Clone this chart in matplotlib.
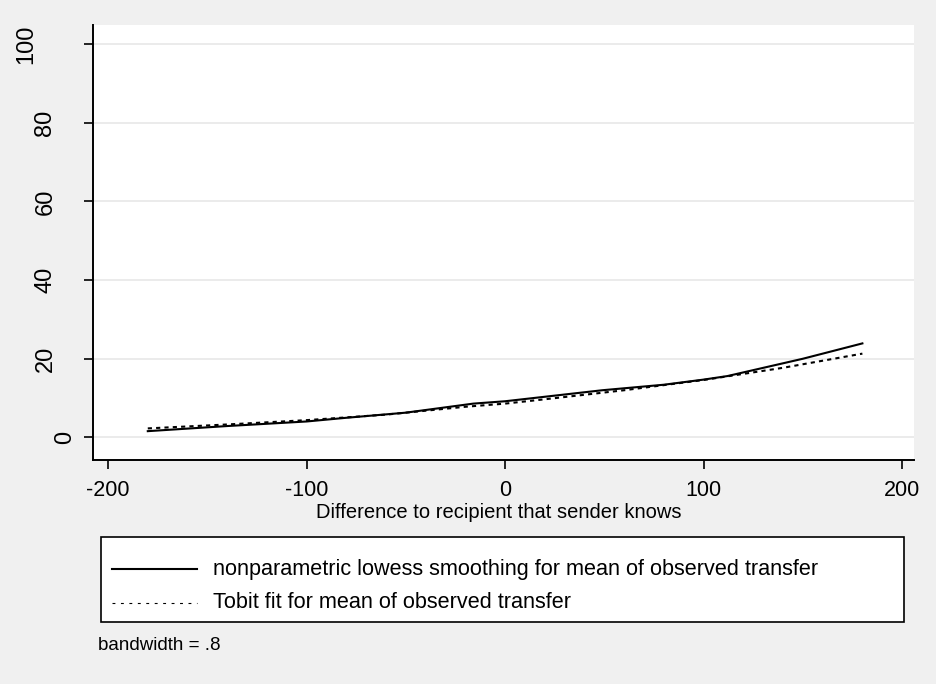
import matplotlib
matplotlib.use("Agg")
import matplotlib.pyplot as plt
from matplotlib.patches import Rectangle
from matplotlib.lines import Line2D

# lowess smoothing of observed transfer
lowess_x = [-180, -140, -100, -80, -50, -16, 0, 49, 80, 100, 112, 150, 180]
lowess_y = [1.6, 2.9, 4.06, 5.0, 6.3, 8.6, 9.2, 12.0, 13.4, 14.7, 15.6, 20.0, 23.9]

# tobit fitted mean
tobit_x = [-180, -140, -100, -60, -20, 0, 20, 60, 100, 140, 180]
tobit_y = [2.3, 3.3, 4.4, 5.8, 7.8, 8.6, 9.7, 12.0, 14.6, 17.7, 21.3]

xticks = [-200, -100, 0, 100, 200]
yticks = [0, 20, 40, 60, 80, 100]
labels = ['nonparametric lowess smoothing for mean of observed transfer',
          'Tobit fit for mean of observed transfer']

plt.rcParams['font.family'] = ['Liberation Sans', 'DejaVu Sans']

W, H = 936, 684
fig = plt.figure(figsize=(W / 100, H / 100), dpi=100, facecolor='#f0f0f0')
ax = fig.add_axes([93 / W, 1 - 459.5 / H, (914 - 93) / W, (459.5 - 25) / H])
ax.set_facecolor('white')

ax.plot(lowess_x, lowess_y, color='black', lw=1.5)
ax.plot(tobit_x, tobit_y, color='black', lw=1.5, linestyle=(0, (2, 2)))

ax.set_xlim(-207.6, 206.0)
ax.set_ylim(-5.6, 104.8)
ax.set_xticks(xticks, labels=[str(v) for v in xticks])
ax.set_yticks(yticks, labels=[str(v) for v in yticks])
ax.tick_params(axis='both', length=6.5, width=1.2, direction='out')
ax.tick_params(axis='x', pad=8, labelsize=15.5)
ax.tick_params(axis='y', labelrotation=90, labelsize=17)
# rotated y labels sit further out the longer they are
for tick, v in zip(ax.yaxis.get_major_ticks(), yticks):
    tick.set_pad((19.5 * len(str(v)) - 0.5) * 0.72)
    tick.label1.set_ha('center')
    tick.label1.set_va('center')

ax.grid(axis='y', color='#e8e8e8', lw=1.2)
ax.set_axisbelow(True)
for side in ['top', 'right']:
    ax.spines[side].set_visible(False)
for side in ['left', 'bottom']:
    ax.spines[side].set_linewidth(1.4)

fig.text(499 / W, 1 - 513 / H, 'Difference to recipient that sender knows',
         ha='center', va='center', fontsize=14.5)

# legend box
fig.patches.append(Rectangle((100.7 / W, 1 - 622.3 / H), (904 - 100.7) / W, (622.3 - 537.3) / H,
                             transform=fig.transFigure, facecolor='white',
                             edgecolor='black', lw=1.2))
styles = [dict(lw=1.5, linestyle='-'), dict(lw=0.8, linestyle=(0, (2.6, 5.0)))]
for ypx, label, st in zip([569, 603], labels, styles):
    yf = 1 - ypx / H
    fig.add_artist(Line2D([111.7 / W, 196.7 / W], [yf, yf], transform=fig.transFigure,
                          color='black', **st))
    fig.text(213 / W, yf, label, ha='left', va='center', fontsize=15.6)

fig.text(97.5 / W, 1 - 646 / H, 'bandwidth = .8', ha='left', va='center', fontsize=13.5)

fig.savefig('out.png', dpi=100, facecolor=fig.get_facecolor())
